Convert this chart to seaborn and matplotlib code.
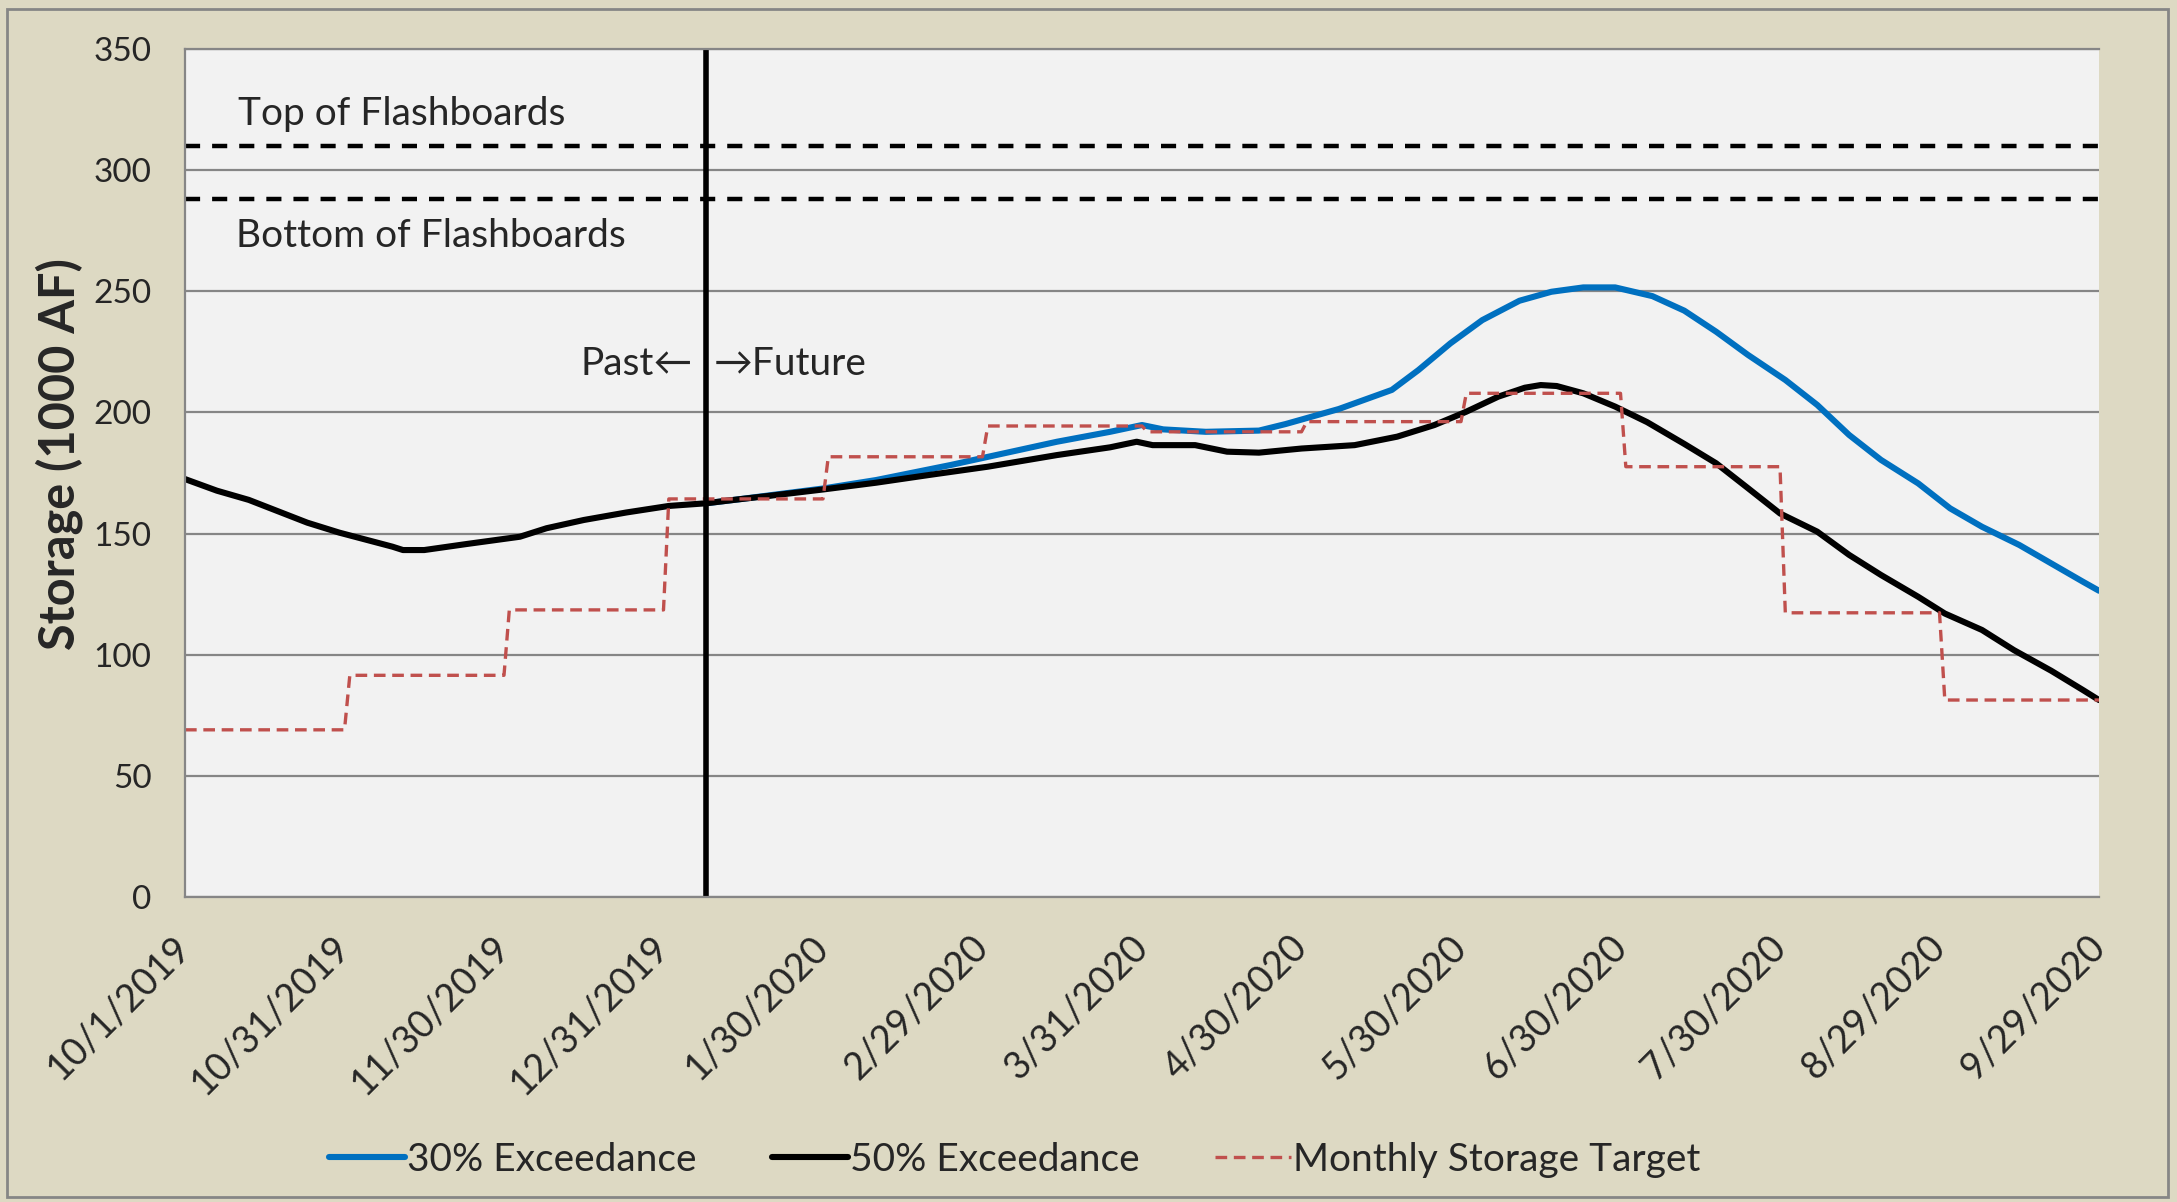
import matplotlib
matplotlib.use('Agg')
import matplotlib.pyplot as plt
from matplotlib.patches import Rectangle
import seaborn as sns

# x is a day index along the water year; the chart's axis is evenly spaced, one tick per 30 days
tick_days = [0, 30, 60, 90, 120, 150, 180, 210, 240, 270, 300, 330, 360]
tick_labels = ['10/1/2019', '10/31/2019', '11/30/2019', '12/31/2019', '1/30/2020',
               '2/29/2020', '3/31/2020', '4/30/2020', '5/30/2020', '6/30/2020',
               '7/30/2020', '8/29/2020', '9/29/2020']

# 50% exceedance (black)
exc50_days = [0, 6, 12, 23, 29, 39, 41, 45, 53, 63, 68, 75, 83, 91, 98, 104, 110, 120,
              130, 140, 151, 164, 174, 179, 182, 190, 196, 202, 210, 220, 228, 235, 241,
              247, 252, 255, 258, 263, 269, 275, 282, 288, 294, 300, 307, 313, 319, 326,
              331, 338, 344, 351, 357, 360]
exc50_vals = [172.5, 167.7, 163.9, 154.5, 150.4, 144.6, 143.2, 143.2, 145.7, 148.7, 152.2,
              155.6, 158.7, 161.4, 162.5, 164.1, 165.6, 168.2, 171.0, 174.2, 177.6, 182.4,
              185.6, 187.9, 186.5, 186.5, 183.8, 183.4, 185.1, 186.5, 190.0, 194.8, 200.3,
              206.5, 210.2, 211.3, 210.9, 207.9, 202.4, 196.0, 187.0, 179.0, 168.7, 158.3,
              150.8, 141.2, 132.9, 123.9, 117.0, 110.2, 101.9, 93.4, 85.4, 81.3]

# 30% exceedance (blue), forecast part only (identical to black before that)
exc30_days = [98, 104, 110, 120, 130, 144, 154, 164, 174, 180, 184, 192, 202, 207, 217,
              227, 232, 238, 244, 251, 257, 263, 269, 276, 282, 288, 294, 301, 307, 313,
              319, 326, 332, 338, 345, 351, 357, 360]
exc30_vals = [162.5, 164.1, 165.8, 168.6, 172.1, 178.3, 183.1, 187.9, 192.0, 194.8, 193.0,
              192.0, 192.5, 195.2, 201.4, 209.3, 217.5, 228.5, 238.1, 246.1, 249.8, 251.6,
              251.6, 248.0, 242.0, 233.3, 223.7, 213.4, 203.1, 190.7, 180.4, 170.7, 160.4,
              152.8, 145.3, 137.7, 130.1, 126.4]

# monthly storage target (red dashed steps)
target_start = [0, 31, 61, 91, 121, 151, 181, 211, 241, 271, 301, 331]
target_end = [30, 60, 90, 120, 150, 180, 210, 240, 270, 300, 330, 360]
target_vals = [69.0, 91.5, 118.5, 164.3, 181.7, 194.4, 192.0, 196.2, 207.9, 177.6, 117.3, 81.3]

top_flash = 310
bottom_flash = 288
today_day = 98

sns.set_style('white', {'axes.facecolor': '#F2F2F2', 'figure.facecolor': '#DDD9C3'})
plt.rcParams['font.family'] = ['Lato', 'DejaVu Sans']

W, H = 2177, 1202
fig = plt.figure(figsize=(W / 100, H / 100), dpi=100)
fig.patch.set_facecolor('#DDD9C3')
ax = fig.add_axes([185 / W, 1 - 897 / H, (2099 - 185) / W, (897 - 49) / H])
ax.set_facecolor('#F2F2F2')

ax.yaxis.grid(True, color='#868686', lw=1.6)
ax.set_axisbelow(True)

step_x, step_y = [], []
for s, e, v in zip(target_start, target_end, target_vals):
    step_x += [s, e]
    step_y += [v, v]

sns.lineplot(x=exc30_days, y=exc30_vals, ax=ax, color='#0070C0', lw=4.4,
             label='30% Exceedance', sort=False, estimator=None)
sns.lineplot(x=exc50_days, y=exc50_vals, ax=ax, color='black', lw=4.4,
             label='50% Exceedance', sort=False, estimator=None)
sns.lineplot(x=step_x, y=step_y, ax=ax, color='#C0504D', lw=2.4,
             label='Monthly Storage Target', sort=False, estimator=None)
ax.lines[-1].set_linestyle((0, (3.5, 2.0)))

ax.axhline(top_flash, color='black', lw=3.2, ls=(0, (3.4, 2.7)), zorder=1.5)
ax.axhline(bottom_flash, color='black', lw=3.2, ls=(0, (3.4, 2.7)), zorder=1.5)
ax.axvline(today_day, color='black', lw=4.0)

ax.text(10, 323, 'Top of Flashboards', fontsize=28, va='center', ha='left')
ax.text(9.6, 273, 'Bottom of Flashboards', fontsize=28, va='center', ha='left')
ax.text(95.5, 220, 'Past\u2190', fontsize=28, va='center', ha='right')
ax.text(99.5, 220, '\u2192Future', fontsize=28, va='center', ha='left')

ax.set_xlim(0, 360)
ax.set_ylim(0, 350)
ax.set_yticks(range(0, 351, 50))
ax.set_xticks(tick_days)
ax.set_xticklabels(tick_labels)
ax.tick_params(axis='y', direction='out', color='#868686', width=1.6, length=8,
               labelsize=24, pad=16)
ax.tick_params(axis='x', direction='out', color='#868686', width=1.6, length=9,
               labelsize=27, pad=23)
plt.setp(ax.get_xticklabels(), rotation=45, ha='right', va='center',
         rotation_mode='anchor')

for side in ['left', 'bottom', 'top']:
    ax.spines[side].set_color('#868686')
    ax.spines[side].set_linewidth(1.6)
ax.spines['right'].set_visible(False)

ax.set_xlabel('')
ax.set_ylabel('Storage (1000 AF)', fontsize=35, fontweight='bold', va='center')
ax.yaxis.set_label_coords(-0.066, 0.522)

handles, labels = ax.get_legend_handles_labels()
ax.get_legend().remove()
fig.legend(handles, labels, loc='center', bbox_to_anchor=(0.466, 0.035), ncol=3,
           frameon=False, fontsize=28, handlelength=1.95, handletextpad=0.05,
           columnspacing=1.95)

fig.patches.append(Rectangle((7 / W, 5 / H), (2168 - 7) / W, (1195 - 7) / H,
                             transform=fig.transFigure, fill=False,
                             edgecolor='#868686', lw=2))

fig.savefig('out.png', dpi=100, facecolor=fig.get_facecolor())
